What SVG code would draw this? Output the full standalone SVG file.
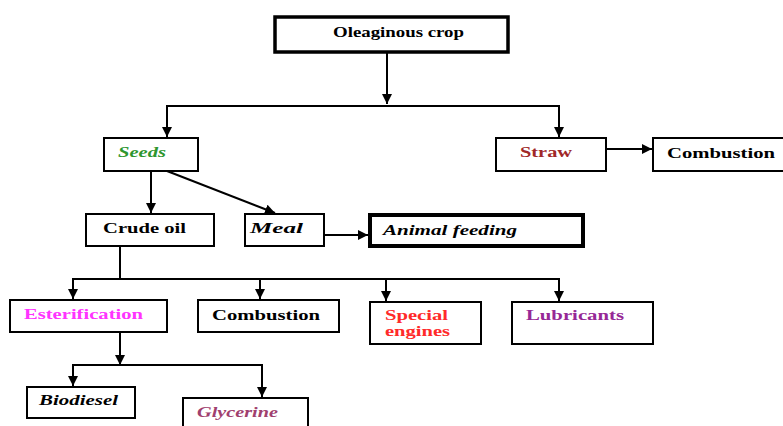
<svg xmlns="http://www.w3.org/2000/svg" width="783" height="426" viewBox="0 0 783 426">
<defs>
<style>
.box{fill:#fff;stroke:#000;stroke-width:2}
.i{font-style:italic}
.c{fill:none;stroke:#000;stroke-width:2}
</style>
<marker id="a" markerUnits="userSpaceOnUse" markerWidth="10" markerHeight="10" viewBox="0 0 10 10" refX="10" refY="5" orient="auto">
<path d="M0,0 L10,5 L0,10 Z" fill="#000"/>
</marker>
</defs>
<rect width="783" height="426" fill="#fff"/>
<g id="connectors">
<line class="c" x1="387" y1="52" x2="387" y2="104" marker-end="url(#a)"/>
<polyline class="c" points="167,137 167,106 559,106 559,137" marker-end="url(#a)"/>
<line class="c" x1="167" y1="106" x2="167" y2="137" marker-end="url(#a)"/>
<line class="c" x1="606" y1="149" x2="652" y2="149" marker-end="url(#a)"/>
<line class="c" x1="151" y1="171" x2="151" y2="213" marker-end="url(#a)"/>
<line class="c" x1="167" y1="171" x2="275" y2="213" marker-end="url(#a)"/>
<line class="c" x1="324" y1="235" x2="368" y2="235" marker-end="url(#a)"/>
<polyline class="c" points="120,246 120,279"/>
<line class="c" x1="72" y1="279" x2="560" y2="279"/>
<line class="c" x1="73" y1="279" x2="73" y2="299" marker-end="url(#a)"/>
<line class="c" x1="260" y1="279" x2="260" y2="299" marker-end="url(#a)"/>
<line class="c" x1="386" y1="279" x2="386" y2="301" marker-end="url(#a)"/>
<line class="c" x1="559" y1="279" x2="559" y2="301" marker-end="url(#a)"/>
<line class="c" x1="120" y1="332" x2="120" y2="365" marker-end="url(#a)"/>
<line class="c" x1="72" y1="365" x2="263" y2="365"/>
<line class="c" x1="73" y1="365" x2="73" y2="386" marker-end="url(#a)"/>
<line class="c" x1="262" y1="365" x2="262" y2="397" marker-end="url(#a)"/>
</g>
<g font-family="Liberation Serif, Times New Roman, serif" font-weight="bold" font-size="15" fill="#000">
<g id="oleaginous">
<rect class="box" x="275" y="17" width="233" height="35" style="stroke-width:3.5"/>
<text x="333" y="37" textLength="131" lengthAdjust="spacingAndGlyphs">Oleaginous crop</text>
</g>
<g id="seeds">
<rect class="box" x="104" y="138" width="94" height="33"/>
<text class="i" x="118" y="157" textLength="48" lengthAdjust="spacingAndGlyphs" fill="#2e962e">Seeds</text>
</g>
<g id="straw">
<rect class="box" x="496" y="138" width="110" height="33"/>
<text x="520" y="157" textLength="52" lengthAdjust="spacingAndGlyphs" fill="#a02828">Straw</text>
</g>
<g id="combustion1">
<rect class="box" x="653" y="138" width="132" height="33"/>
<text x="667" y="158" textLength="108" lengthAdjust="spacingAndGlyphs">Combustion</text>
</g>
<g id="crudeoil">
<rect class="box" x="86" y="214" width="128" height="32"/>
<text x="103" y="233" textLength="83" lengthAdjust="spacingAndGlyphs">Crude oil</text>
</g>
<g id="meal">
<rect class="box" x="245" y="214" width="79" height="32"/>
<text class="i" x="250" y="233" textLength="53" lengthAdjust="spacingAndGlyphs">Meal</text>
</g>
<g id="animalfeeding">
<rect class="box" x="370" y="215" width="213" height="31" style="stroke-width:4"/>
<text class="i" x="383" y="235" textLength="134" lengthAdjust="spacingAndGlyphs">Animal feeding</text>
</g>
<g id="esterification">
<rect class="box" x="10" y="300" width="157" height="32"/>
<text x="24" y="319" textLength="119" lengthAdjust="spacingAndGlyphs" fill="#ff33ff">Esterification</text>
</g>
<g id="combustion2">
<rect class="box" x="198" y="300" width="141" height="32"/>
<text x="212" y="320" textLength="108" lengthAdjust="spacingAndGlyphs">Combustion</text>
</g>
<g id="specialengines">
<rect class="box" x="370" y="302" width="111" height="42"/>
<text x="385" y="320" textLength="63" lengthAdjust="spacingAndGlyphs" fill="#ff2a2a">Special</text>
<text x="385" y="336" textLength="65" lengthAdjust="spacingAndGlyphs" fill="#ff2a2a">engines</text>
</g>
<g id="lubricants">
<rect class="box" x="512" y="302" width="141" height="42"/>
<text x="526" y="320" textLength="98" lengthAdjust="spacingAndGlyphs" fill="#962896">Lubricants</text>
</g>
<g id="biodiesel">
<rect class="box" x="27" y="387" width="108" height="31"/>
<text class="i" x="39" y="405" textLength="79" lengthAdjust="spacingAndGlyphs">Biodiesel</text>
</g>
<g id="glycerine">
<rect class="box" x="183" y="398" width="125" height="40"/>
<text class="i" x="197" y="417" textLength="81" lengthAdjust="spacingAndGlyphs" fill="#a0406e">Glycerine</text>
</g>
</g>
</svg>
